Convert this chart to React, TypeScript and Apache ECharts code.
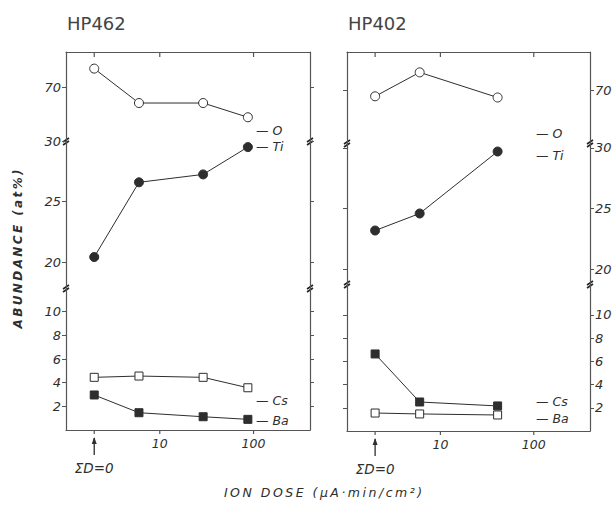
import React, { useEffect, useRef } from 'react';
import * as echarts from 'echarts';

// ---- data ----
const panelTitles = ['HP462', 'HP402'];
// x = ion dose (µA·min/cm²); the first point (ΣD=0) is drawn at the pseudo-position 2
const doseLeft = [2, 6, 29, 87];
const doseRight = [2, 6, 41];
const oxygenLeft = [71.6, 68.7, 68.7, 67.5];
const titaniumLeft = [20.45, 26.6, 27.25, 29.5];
const cesiumLeft = [4.45, 4.56, 4.45, 3.57];
const bariumLeft = [2.96, 1.46, 1.12, 0.9];
const oxygenRight = [69.5, 71.5, 69.4];
const titaniumRight = [23.2, 24.6, 29.7];
const filledSqRight = [6.64, 2.5, 2.16];
const openSqRight = [1.55, 1.47, 1.38];
const xTickValues = [2, 10, 100];
const xLabelValues = [10, 100];
const yTicksTop = [70];
const yTicksMid = [20, 25, 30];
const yTicksBottom = [2, 4, 6, 8, 10];
const zeroDoseLabel = 'ΣD=0';
const yAxisName = 'ABUNDANCE (at%)';
const xAxisName = 'ION DOSE (μA·min/cm²)';

// ---- layout (pixels) ----
const panels = [
  {
    left: 66, width: 244,
    segs: [[52, 141], [141, 288], [288, 430]],
    ranges: [[65.5, 73], [17.9, 30], [0, 12]],
    labelSide: 'left',
    legend: [[256, 130, 'O'], [256, 146, 'Ti'], [256, 400, 'Cs'], [256, 420, 'Ba']],
  },
  {
    left: 347, width: 243,
    segs: [[52, 143], [143, 284], [284, 431]],
    ranges: [[65.6, 73.2], [18.8, 30.4], [0, 12.67]],
    labelSide: 'right',
    legend: [[536, 133, 'O'], [536, 155, 'Ti'], [536, 401, 'Cs'], [536, 418, 'Ba']],
  },
];

const INK = '#2e2e2e';
const FRAME = '#555';
const FONT = 'DejaVu Sans';
const spaced = (s: string) => s.split('').join('\u2009');

const zip = (xs: number[], ys: number[]) => xs.map((x, i) => [x, ys[i]]);

export default function App() {
  const ref = useRef<HTMLDivElement>(null);
  useEffect(() => {
    const chart = echarts.init(ref.current!, null, { renderer: 'svg' });
    const grid: any[] = [];
    const xAxis: any[] = [];
    const yAxis: any[] = [];
    const segTicks = [yTicksTop, yTicksMid, yTicksBottom];

    panels.forEach((p, pi) => {
      p.segs.forEach((seg, s) => {
        const g = pi * 3 + s;
        grid.push({ left: p.left, width: p.width, top: seg[0], height: seg[1] - seg[0] });
        xAxis.push({
          type: 'log', logBase: 10, min: 1, max: 400, gridIndex: g,
          position: s === 0 ? 'top' : 'bottom',
          show: s !== 1,
          axisLine: { show: true, lineStyle: { color: FRAME, width: 1.2 } },
          axisTick: { show: false },
          axisLabel: {
            show: s === 2, customValues: xLabelValues, margin: 7,
            fontFamily: FONT, fontStyle: 'italic', fontSize: 12.5, color: INK,
            formatter: (v: number) => String(v),
          },
          splitLine: { show: false },
          minorTick: { show: false },
        });
        const [mn, mx] = p.ranges[s];
        ['left', 'right'].forEach((side) => {
          yAxis.push({
            type: 'value', gridIndex: g, position: side, min: mn, max: mx,
            axisLine: { show: true, lineStyle: { color: FRAME, width: 1.2 } },
            axisTick: {
              show: true, length: 4, customValues: segTicks[s],
              lineStyle: { color: FRAME, width: 1 },
            },
            axisLabel: {
              show: side === p.labelSide, customValues: segTicks[s], margin: 5,
              fontFamily: FONT, fontStyle: 'italic', fontSize: 13, color: INK,
            },
            splitLine: { show: false },
          });
        });
      });
    });

    const mk = (name: string, g: number, data: number[][], symbol: string, filled: boolean, size: number) => ({
      name, type: 'line', xAxisIndex: g, yAxisIndex: g * 2, data,
      symbol, symbolSize: size, showSymbol: true,
      lineStyle: { color: INK, width: 1 },
      itemStyle: { color: filled ? INK : '#fff', borderColor: INK, borderWidth: 1 },
      emphasis: { disabled: true },
    });

    const series = [
      mk('O', 0, zip(doseLeft, oxygenLeft), 'circle', false, 9),
      mk('Ti', 1, zip(doseLeft, titaniumLeft), 'circle', true, 9),
      mk('Cs', 2, zip(doseLeft, cesiumLeft), 'rect', false, 8),
      mk('Ba', 2, zip(doseLeft, bariumLeft), 'rect', true, 8),
      mk('O', 3, zip(doseRight, oxygenRight), 'circle', false, 9),
      mk('Ti', 4, zip(doseRight, titaniumRight), 'circle', true, 9),
      mk('Cs', 5, zip(doseRight, filledSqRight), 'rect', true, 8),
      mk('Ba', 5, zip(doseRight, openSqRight), 'rect', false, 8),
    ];

    chart.setOption({
      animation: false,
      backgroundColor: '#fff',
      grid, xAxis, yAxis, series,
    });

    const graphic: any[] = [];
    const txt = (x: number, y: number, text: string, extra: any = {}) => ({
      type: 'text', x, y, silent: true,
      style: { text, fill: INK, fontFamily: FONT, fontSize: 12, fontStyle: 'italic', ...extra },
    });
    panels.forEach((p, pi) => {
      graphic.push(txt(p.left + 1, 23, panelTitles[pi], { fontSize: 18, fontStyle: 'normal', verticalAlign: 'middle', fill: '#444' }));
      p.legend.forEach(([x, y, t]) => {
        graphic.push(txt(x as number, y as number, '— ' + t, { verticalAlign: 'middle', fontSize: 12.5 }));
      });
      // break marks
      [p.segs[0][1], p.segs[1][1]].forEach((yb) => {
        [p.left, p.left + p.width].forEach((xb) => {
          graphic.push({ type: 'line', silent: true, shape: { x1: xb - 3, y1: yb + 1, x2: xb + 3, y2: yb - 3 }, style: { stroke: '#222', lineWidth: 1.6 } });
          graphic.push({ type: 'line', silent: true, shape: { x1: xb - 3, y1: yb + 4, x2: xb + 3, y2: yb }, style: { stroke: '#222', lineWidth: 1.6 } });
        });
      });
      // x ticks: top inside, bottom outside
      const yTop = p.segs[0][0];
      const yBot = p.segs[2][1];
      xTickValues.forEach((v) => {
        const xt = chart.convertToPixel({ xAxisIndex: pi * 3 + 2 }, v) as number;
        graphic.push({ type: 'line', silent: true, shape: { x1: xt, y1: yTop, x2: xt, y2: yTop + 5 }, style: { stroke: FRAME, lineWidth: 1.2 } });
        graphic.push({ type: 'line', silent: true, shape: { x1: xt, y1: yBot, x2: xt, y2: yBot + 4 }, style: { stroke: FRAME, lineWidth: 1.2 } });
      });
      const xz = chart.convertToPixel({ xAxisIndex: pi * 3 + 2 }, doseLeft[0]) as number;
      graphic.push({ type: 'line', silent: true, shape: { x1: xz, y1: yBot + 8, x2: xz, y2: yBot + 25 }, style: { stroke: INK, lineWidth: 1.3 } });
      graphic.push({ type: 'polygon', silent: true, shape: { points: [[xz - 2.5, yBot + 14], [xz, yBot + 7], [xz + 2.5, yBot + 14]] }, style: { fill: INK } });
      graphic.push(txt(xz, yBot + 38, zeroDoseLabel, { align: 'center', verticalAlign: 'middle', fontSize: 13.5 }));
    });
    graphic.push({
      type: 'text', x: 18, y: 249, rotation: Math.PI / 2, silent: true,
      style: { text: spaced(yAxisName), fill: INK, fontFamily: FONT, fontSize: 12, fontWeight: 'bold', fontStyle: 'italic', align: 'center', verticalAlign: 'middle' },
    });
    graphic.push(txt(323, 492, spaced(xAxisName), { align: 'center', verticalAlign: 'middle', fontSize: 12.5 }));

    chart.setOption({ graphic });
    return () => chart.dispose();
  }, []);
  return <div ref={ref} style={{ position: 'absolute', left: 0, top: 0, width: 615, height: 505 }} />;
}
